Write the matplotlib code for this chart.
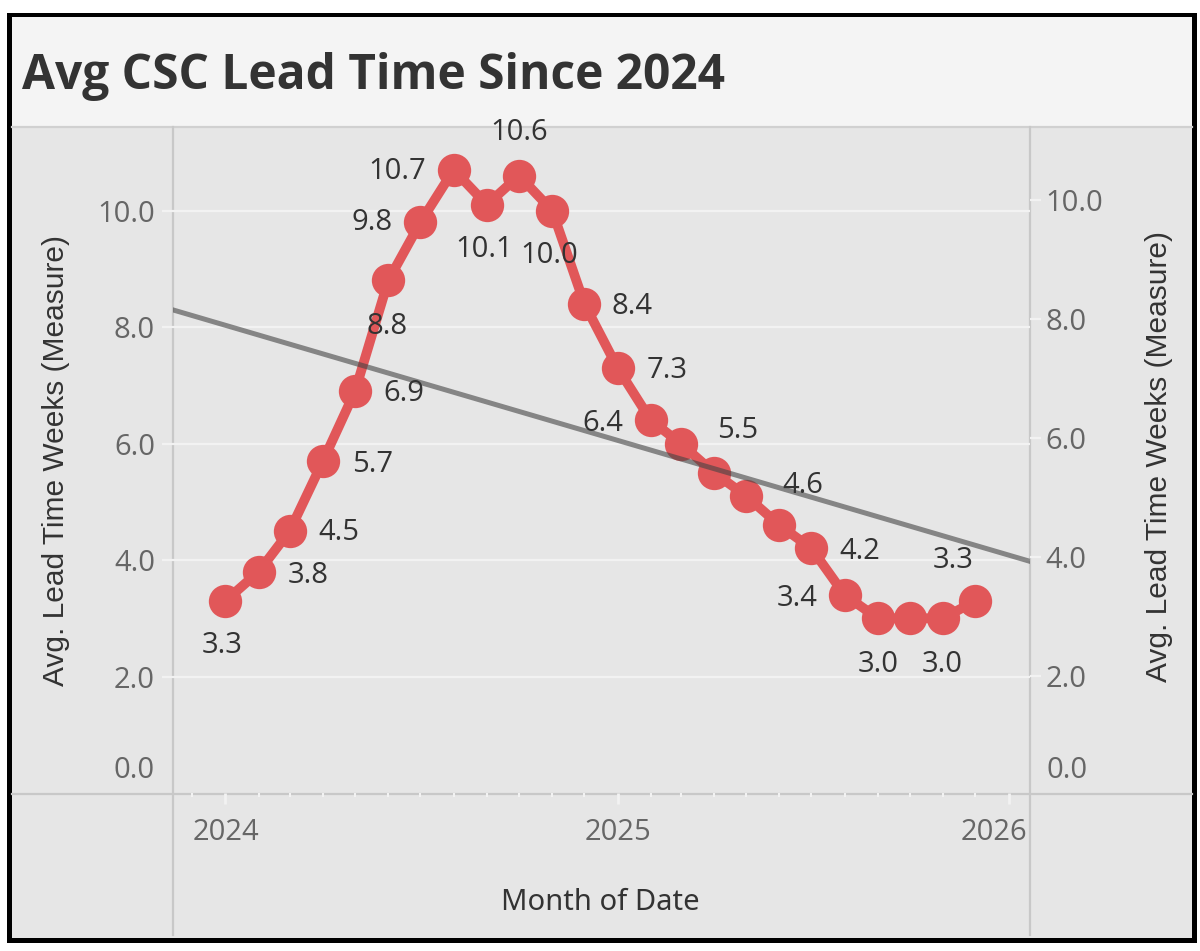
import matplotlib
matplotlib.use('Agg')
import matplotlib.pyplot as plt
import matplotlib.dates as mdates
from matplotlib.transforms import offset_copy
from matplotlib.patches import Rectangle
import numpy as np
import pandas as pd
import datetime as dt

plt.rcParams['font.family'] = ['Open Sans', 'DejaVu Sans']

# ---------------- data ----------------
title = 'Avg CSC Lead Time Since 2024'
y_title = 'Avg. Lead Time Weeks (Measure)'
x_title = 'Month of Date'
months = pd.date_range('2024-01-01', periods=24, freq='MS')
values = [3.3, 3.8, 4.5, 5.7, 6.9, 8.8, 9.8, 10.7, 10.1, 10.6, 10.0, 8.4,
          7.3, 6.4, 6.0, 5.5, 5.1, 4.6, 4.2, 3.4, 3.0, 3.0, 3.0, 3.3]
show_label = [True, True, True, True, True, True, True, True, True, True, True, True,
              True, True, False, True, False, True, True, True, True, False, True, True]
y_ticks = [2, 4, 6, 8, 10]
year_labels = ['2024', '2025', '2026']

# label offsets (pixels, x right / y down) - styling only
label_off = [(-3, 45), (49, 4), (49, 2), (50, 3), (49, 2), (-1, 46), (-48, 0), (-56, 2),
             (-3, 45), (0, -43), (-3, 45), (48, 3), (50, 3), (-48, 3), (0, 0), (24, -42),
             (0, 0), (23, -40), (48, 3), (-48, 4), (0, 46), (0, 0), (-1, 46), (-22, -40)]

RED = '#E15759'
TXT = '#333333'
TICK = '#666666'
BG = '#e6e6e6'
GRID = '#f2f2f2'
DIV = '#c8c8c8'

fig = plt.figure(figsize=(12, 9.51), dpi=100, facecolor='white')

# background / frame in pixel coordinates
bg = fig.add_axes([0, 0, 1, 1], zorder=0)
bg.set_xlim(0, 1200)
bg.set_ylim(951, 0)
bg.axis('off')
bg.add_patch(Rectangle((7, 13), 1190, 930, facecolor='black', edgecolor='none'))
bg.add_patch(Rectangle((12, 17), 1180, 921, facecolor=BG, edgecolor='none'))
bg.add_patch(Rectangle((12, 17), 1180, 109, facecolor='#f4f4f4', edgecolor='none'))
bg.plot([12, 1192], [126.5, 126.5], color='#d0d0d0', lw=1.6)
bg.plot([12, 1192], [793.5, 793.5], color=DIV, lw=1.6)
bg.plot([173, 173], [127, 935], color=DIV, lw=1.6)
bg.plot([1030, 1030], [127, 935], color=DIV, lw=1.6)

bg.text(22, 89, title, fontsize=34.5, fontweight='bold', family=['Open Sans', 'DejaVu Sans'],
        color=TXT, ha='left', va='baseline')
bg.text(56, 460, y_title, rotation=90, ha='center', va='center', fontsize=21.5,
        family=['Liberation Sans', 'DejaVu Sans'], color=TXT)
bg.text(1159, 457, y_title, rotation=90, ha='center', va='center', fontsize=21.5,
        family=['Liberation Sans', 'DejaVu Sans'], color=TXT)
bg.text(600, 902, x_title, ha='center', va='center', fontsize=21,
        family=['Noto Sans', 'DejaVu Sans'], color=TXT)
bg.text(155, 770, '0.0', ha='right', va='center', fontsize=21, color=TICK)
bg.text(1047, 770, '0.0', ha='left', va='center', fontsize=21, color=TICK)

# main axes
ax = fig.add_axes([173 / 1200, 1 - 793 / 951, 857 / 1200, 666.3 / 951], zorder=2)
ax.patch.set_alpha(0)
for s in ax.spines.values():
    s.set_visible(False)
x0 = mdates.date2num(dt.datetime(2023, 11, 13))
x1 = mdates.date2num(dt.datetime(2026, 1, 21))
ax.set_xlim(x0, x1)
ax.set_ylim(0, 11.44)
ax.set_yticks(y_ticks)
ax.set_yticklabels([f'{t:.1f}' for t in y_ticks])
ax.tick_params(axis='y', length=8, width=1.6, color=GRID, pad=5, labelsize=21, labelcolor=TICK)
ax.grid(axis='y', color=GRID, lw=1.6)
ax.set_axisbelow(True)

ax.xaxis.set_major_locator(mdates.YearLocator())
ax.xaxis.set_minor_locator(mdates.MonthLocator())
ax.tick_params(axis='x', which='major', length=8, width=2, color=GRID, labelbottom=False)
ax.tick_params(axis='x', which='minor', length=3, width=1.5, color=GRID)

xnum = mdates.date2num(months.to_pydatetime())
ax.plot(xnum, values, color=RED, lw=7, marker='o', ms=24, mew=0,
        solid_joinstyle='round', solid_capstyle='round', zorder=3)

coef = np.polyfit(xnum, values, 1)
xs = np.array([x0, x1])
ax.plot(xs, np.polyval(coef, xs), color='#444444', alpha=0.6, lw=3.6, zorder=4)

for xv, v, show, off in zip(xnum, values, show_label, label_off):
    if not show:
        continue
    ax.annotate(f'{v:.1f}', (xv, v), xytext=(off[0], -off[1]), textcoords='offset pixels',
                ha='center', va='center', fontsize=21, color=TXT, zorder=5)

# year labels
for yr, lab in zip([2024, 2025, 2026], year_labels):
    xv = mdates.date2num(dt.datetime(yr, 1, 1))
    if yr == 2026:
        tr = offset_copy(ax.get_xaxis_transform(), fig=fig, x=19, y=-40, units='dots')
        ha = 'right'
    else:
        tr = offset_copy(ax.get_xaxis_transform(), fig=fig, x=0, y=-40, units='dots')
        ha = 'center'
    ax.text(xv, 0, lab, transform=tr, ha=ha, va='center', fontsize=21, color=TICK, clip_on=False)

# right axis
ax2 = ax.twinx()
for s in ax2.spines.values():
    s.set_visible(False)
ax2.set_ylim(0.027, 11.233)
ax2.set_yticks(y_ticks)
ax2.set_yticklabels([f'{t:.1f}' for t in y_ticks])
ax2.tick_params(axis='y', length=8, width=1.6, color=GRID, pad=3, labelsize=21, labelcolor=TICK)

fig.savefig('out.png', dpi=100, facecolor='white')
